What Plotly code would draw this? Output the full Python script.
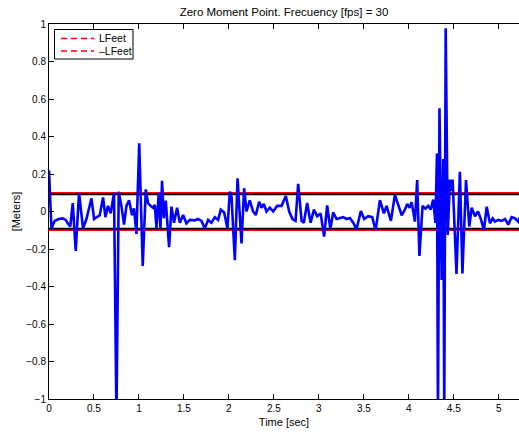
import plotly.graph_objects as go

# ZMP trace (time in seconds, value in meters)
time_s = [0.000, 0.027, 0.063, 0.108, 0.152, 0.186, 0.208, 0.236, 0.264, 0.297,
          0.334, 0.378, 0.416, 0.445, 0.472, 0.501, 0.538, 0.564, 0.601, 0.627,
          0.656, 0.686, 0.723, 0.750, 0.775, 0.805, 0.834, 0.861, 0.890, 0.923,
          0.945, 0.972, 1.003, 1.042, 1.076, 1.101, 1.128, 1.157, 1.176, 1.195,
          1.220, 1.239, 1.257, 1.276, 1.298, 1.335, 1.361, 1.390, 1.424, 1.454,
          1.491, 1.528, 1.565, 1.621, 1.657, 1.695, 1.732, 1.769, 1.806, 1.843,
          1.880, 1.910, 1.947, 1.984, 2.010, 2.029, 2.066, 2.096, 2.140, 2.169,
          2.196, 2.232, 2.269, 2.299, 2.336, 2.363, 2.388, 2.418, 2.455, 2.492,
          2.536, 2.585, 2.633, 2.670, 2.707, 2.741, 2.770, 2.808, 2.833, 2.870,
          2.908, 2.945, 2.981, 3.019, 3.059, 3.092, 3.128, 3.159, 3.197, 3.234,
          3.270, 3.308, 3.345, 3.382, 3.419, 3.467, 3.504, 3.548, 3.593, 3.631,
          3.679, 3.723, 3.753, 3.801, 3.845, 3.882, 3.920, 3.957, 3.982, 4.007,
          4.031, 4.068, 4.093, 4.118, 4.153, 4.185, 4.216, 4.243, 4.271, 4.296,
          4.313, 4.324, 4.341, 4.365, 4.383, 4.394, 4.410, 4.433, 4.457, 4.472,
          4.487, 4.530, 4.568, 4.596, 4.636, 4.672, 4.699, 4.736, 4.769, 4.799,
          4.835, 4.866, 4.902, 4.932, 4.958, 4.995, 5.032, 5.070, 5.106, 5.143,
          5.181, 5.218, 5.233]
zmp_m = [0.22, -0.09, -0.05, -0.04, -0.037, -0.045, -0.063, -0.08, 0.045, -0.21,
         0.10, -0.09, -0.04, 0.015, 0.07, -0.04, -0.03, -0.02, 0.075, -0.03,
         0.03, -0.01, 0.10, -1.10, 0.105, 0.03, -0.07, 0.03, 0.06, -0.02,
         0.017, -0.12, 0.364, -0.29, 0.118, 0.044, 0.03, 0.02, 0.035, -0.09,
         0.10, -0.09, 0.164, -0.036, 0.058, -0.19, 0.026, -0.06, 0.02, -0.06,
         -0.019, -0.063, -0.045, -0.047, -0.04, -0.05, -0.09, -0.045, -0.06, -0.03,
         -0.045, 0.01, -0.005, -0.09, 0.106, 0.08, -0.26, 0.177, -0.17, 0.124,
         0.0, 0.06, 0.0, -0.019, 0.052, 0.02, 0.04, 0.0, 0.02, 0.0,
         0.03, 0.03, 0.083, 0.0, -0.04, -0.05, 0.147, -0.05, -0.06, 0.045,
         -0.06, 0.01, -0.025, -0.01, -0.134, 0.033, -0.095, -0.005, -0.04, -0.035,
         -0.03, -0.04, -0.035, -0.06, -0.095, 0.003, -0.04, -0.025, -0.03, -0.10,
         0.06, -0.01, 0.03, -0.05, 0.088, 0.037, -0.02, 0.01, 0.04, 0.02,
         0.05, -0.054, 0.168, -0.237, 0.03, 0.015, 0.03, 0.01, 0.063, -0.06,
         0.31, -1.10, 0.55, -0.365, 0.28, -1.10, 0.977, -0.125, 0.17, 0.11,
         0.17, -0.333, 0.212, -0.33, 0.168, -0.08, 0.02, -0.025, 0.0, -0.037,
         -0.10, 0.026, -0.063, -0.037, -0.054, -0.045, -0.05, -0.04, -0.07, -0.03,
         -0.037, -0.054, -0.03]

# Foot limits
lfeet = 0.10
support = 0.093
x_limits = [0.0, 5.233]
legend_names = ["LFeet", "\u2013LFeet"]

FONT = "Liberation Sans, Arial, Helvetica, sans-serif"

fig = go.Figure()

for s in (support, -support):
    fig.add_trace(go.Scatter(x=x_limits, y=[s, s], mode="lines",
                             line=dict(color="black", width=2.2),
                             showlegend=False, hoverinfo="skip"))
for s in (lfeet, -lfeet):
    fig.add_trace(go.Scatter(x=x_limits, y=[s, s], mode="lines",
                             line=dict(color="#ff0000", width=1.4),
                             showlegend=False, hoverinfo="skip"))

fig.add_trace(go.Scatter(x=time_s, y=zmp_m, mode="lines",
                         line=dict(color="#0000ff", width=2.6),
                         showlegend=False))

# --- manual MATLAB-style legend (pixel positions converted to paper coords) ---
L, R, T, B = 49, 519, 24, 399
W, H = R - L, B - T
def px(x):
    return (x - L) / W
def py(y):
    return (B - y) / H

shapes = [dict(type="rect", xref="paper", yref="paper",
               x0=px(54.5), x1=px(133), y0=py(59), y1=py(29.5),
               line=dict(color="black", width=1), fillcolor="white", layer="above")]
annotations = []
for i, name in enumerate(legend_names):
    yy = 38.5 + i * 12.5
    shapes.append(dict(type="line", xref="paper", yref="paper",
                       x0=px(61), x1=px(94), y0=py(yy), y1=py(yy),
                       line=dict(color="#ff0000", width=1.6, dash="6px,4px"), layer="above"))
    annotations.append(dict(xref="paper", yref="paper", x=px(96.5), y=py(yy),
                            xanchor="left", yanchor="middle", showarrow=False,
                            text=name, font=dict(family=FONT, size=10.5, color="black")))

fig.update_layout(
    width=519, height=432,
    margin=dict(l=L, r=0, t=T, b=432 - B, autoexpand=False),
    paper_bgcolor="white", plot_bgcolor="white",
    font=dict(family=FONT, size=10, color="black"),
    title=dict(text="Zero Moment Point. Frecuency [fps] = 30",
               x=(L + R) / 2 / 519, xanchor="center",
               y=1 - 11.5 / 432, yanchor="middle", yref="container",
               font=dict(family=FONT, size=11.5, color="black")),
    showlegend=False,
    shapes=shapes,
    annotations=annotations,
    xaxis=dict(range=[0, 5.225], tickmode="array", automargin=False,
               tickvals=[0, 0.5, 1, 1.5, 2, 2.5, 3, 3.5, 4, 4.5, 5],
               ticktext=["0", "0.5", "1", "1.5", "2", "2.5", "3", "3.5", "4", "4.5", "5"],
               ticks="inside", ticklen=5, tickcolor="black", tickwidth=1,
               showline=True, linecolor="black", linewidth=1, mirror="ticks",
               showgrid=False, zeroline=False,
               title=dict(text="Time [sec]", standoff=5,
                          font=dict(family=FONT, size=11))),
    yaxis=dict(range=[-1, 1], tickmode="array", automargin=False,
               tickvals=[-1, -0.8, -0.6, -0.4, -0.2, 0, 0.2, 0.4, 0.6, 0.8, 1],
               ticktext=["\u22121", "\u22120.8", "\u22120.6", "\u22120.4", "\u22120.2", "0",
                         "0.2", "0.4", "0.6", "0.8", "1"],
               ticks="inside", ticklen=5, tickcolor="black", tickwidth=1,
               showline=True, linecolor="black", linewidth=1, mirror=False,
               showgrid=False, zeroline=False,
               title=dict(text="[Meters]", standoff=3,
                          font=dict(family=FONT, size=11))),
)

# remove the default 8px page margin so the figure fills the window exactly
fig.write_html("out.html",
               config={"displayModeBar": False},
               post_script="document.body.style.margin='0';document.body.style.overflow='hidden';")
